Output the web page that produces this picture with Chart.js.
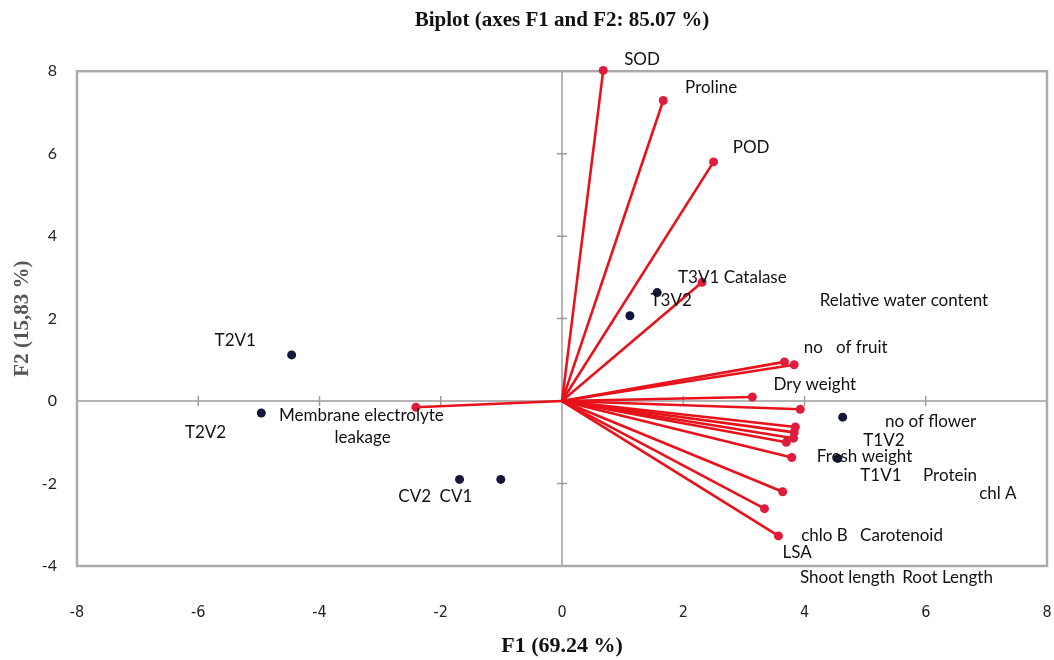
<!DOCTYPE html>
<html>
<head>
<meta charset="utf-8">
<title>Biplot</title>
<script src="https://cdn.jsdelivr.net/npm/chart.js@4.4.1/dist/chart.umd.min.js"></script>
<style>
  html, body { margin: 0; padding: 0; background: #fff; }
</style>
</head>
<body>
<canvas id="biplot" width="1054" height="660"></canvas>
<script>
// variables (loadings on F1 / F2)
var varNames = ['SOD', 'Proline', 'POD', 'Catalase', 'Relative water content', 'no of fruit',
                'Dry weight', 'no of flower', 'Protein', 'chl A', 'Fresh weight', 'Carotenoid',
                'chlo B', 'Root Length', 'Shoot length', 'LSA', 'Membrane electrolyte leakage'];
var varF1 = [0.68, 1.67, 2.50, 2.31, 3.67, 3.83, 3.14, 3.93, 3.85, 3.83, 3.82, 3.70, 3.79, 3.64, 3.34, 3.57, -2.41];
var varF2 = [8.02, 7.29, 5.80, 2.88, 0.95, 0.88, 0.10, -0.20, -0.63, -0.76, -0.90, -1.00, -1.37, -2.20, -2.61, -3.27, -0.15];

// observations
var obsNames = ['T3V1', 'T3V2', 'T2V1', 'T2V2', 'CV2', 'CV1', 'T1V2', 'T1V1'];
var obsF1 = [1.57, 1.12, -4.46, -4.96, -1.69, -1.01, 4.63, 4.55];
var obsF2 = [2.63, 2.07, 1.12, -0.29, -1.90, -1.90, -0.39, -1.39];

// axis ticks
var xTicks = [-8, -6, -4, -2, 0, 2, 4, 6, 8];
var yTicks = [-4, -2, 0, 2, 4, 6, 8];

// text labels as they sit on the original plot (data units)
var textLabels = [
  ['SOD', 1.32, 8.29], ['Proline', 2.46, 7.61], ['POD', 3.12, 6.15],
  ['T3V1 Catalase', 2.81, 3.00], ['T3V2', 1.80, 2.44],
  ['Relative water content', 5.64, 2.44], ['no   of fruit', 4.68, 1.29],
  ['Dry weight', 4.17, 0.41], ['no of flower', 6.08, -0.49], ['T1V2', 5.31, -0.95],
  ['Fresh weight', 4.99, -1.34], ['T1V1', 5.26, -1.80], ['Protein', 6.40, -1.80],
  ['chl A', 7.19, -2.24], ['chlo B', 4.33, -3.27], ['Carotenoid', 5.60, -3.27],
  ['LSA', 3.88, -3.68], ['Shoot length', 4.71, -4.27], ['Root Length', 6.36, -4.27],
  ['T2V1', -5.39, 1.46], ['T2V2', -5.88, -0.76],
  ['Membrane electrolyte', -3.31, -0.34], ['leakage', -3.29, -0.88],
  ['CV2', -2.43, -2.32], ['CV1', -1.75, -2.32]
];

var datasets = [];
for (var i = 0; i < varNames.length; i++) {
  datasets.push({
    label: varNames[i],
    type: 'line',
    data: [{x: 0, y: 0}, {x: varF1[i], y: varF2[i]}],
    borderColor: '#e8121a',
    borderWidth: 2.6,
    pointRadius: [0, 4.5],
    pointBackgroundColor: '#e01c3c',
    pointBorderWidth: 0,
    fill: false,
    clip: false
  });
}
datasets.push({
  label: 'Observations',
  type: 'scatter',
  data: obsF1.map(function(v, i) { return {x: v, y: obsF2[i]}; }),
  pointRadius: 4.5,
  pointBackgroundColor: '#14163a',
  pointBorderWidth: 0,
  clip: false
});

var biplotDecor = {
  id: 'biplotDecor',
  beforeDatasetsDraw: function(chart) {
    var ctx = chart.ctx, a = chart.chartArea;
    var xs = chart.scales.x, ys = chart.scales.y;
    var x0 = xs.getPixelForValue(0), y0 = ys.getPixelForValue(0);
    ctx.save();
    ctx.strokeStyle = '#9c9c9c';
    ctx.lineWidth = 1.5;
    ctx.beginPath();
    ctx.moveTo(a.left, y0); ctx.lineTo(a.right, y0);
    ctx.moveTo(x0, a.top); ctx.lineTo(x0, a.bottom);
    xTicks.forEach(function(t) {
      var px = xs.getPixelForValue(t);
      ctx.moveTo(px, y0 - 5); ctx.lineTo(px, y0 + 5);
    });
    yTicks.forEach(function(t) {
      var py = ys.getPixelForValue(t);
      ctx.moveTo(x0 - 5, py); ctx.lineTo(x0 + 5, py);
    });
    ctx.stroke();
    // frame
    ctx.strokeStyle = '#ababab';
    ctx.lineWidth = 2.5;
    ctx.strokeRect(a.left, a.top, a.right - a.left, a.bottom - a.top);
    ctx.restore();
  },
  afterDraw: function(chart) {
    var ctx = chart.ctx, xs = chart.scales.x, ys = chart.scales.y;
    ctx.save();
    ctx.font = '17px Lato';
    ctx.fillStyle = '#111';
    ctx.textAlign = 'center';
    ctx.textBaseline = 'middle';
    textLabels.forEach(function(l) {
      ctx.fillText(l[0], xs.getPixelForValue(l[1]), ys.getPixelForValue(l[2]));
    });
    ctx.restore();
  }
};

var ctx = document.getElementById('biplot').getContext('2d');
var chart = new Chart(ctx, {
  type: 'scatter',
  data: { datasets: datasets },
  options: {
    responsive: false,
    animation: false,
    layout: { padding: { left: 0, right: 7, top: 0, bottom: 0 } },
    plugins: {
      legend: { display: false },
      tooltip: { enabled: false },
      title: {
        display: true,
        fullSize: false,
        text: 'Biplot (axes F1 and F2: 85.07 %)',
        font: { family: 'Liberation Serif', size: 21, weight: 'bold' },
        color: '#111',
        padding: { top: 8, bottom: 38 }
      }
    },
    scales: {
      x: {
        type: 'linear',
        min: -8, max: 8,
        afterBuildTicks: function(s) { s.ticks = xTicks.map(function(v) { return {value: v}; }); },
        grid: { display: false, drawTicks: false },
        border: { display: false },
        ticks: { padding: 37, color: '#222', font: { family: "'DejaVu Sans Condensed', Lato", size: 16 } },
        afterFit: function(s) { s.height = 94; s.paddingLeft = 0; s.paddingRight = 0; },
        title: {
          display: true,
          text: 'F1 (69.24 %)',
          color: '#111',
          font: { family: 'Liberation Serif', size: 22, weight: 'bold' },
          padding: { top: 0, bottom: 0 }
        }
      },
      y: {
        type: 'linear',
        min: -4, max: 8,
        afterBuildTicks: function(s) { s.ticks = yTicks.map(function(v) { return {value: v}; }); },
        grid: { display: false, drawTicks: false },
        border: { display: false },
        ticks: { padding: 20, color: '#222', font: { family: 'Lato', size: 16 } },
        afterFit: function(s) { s.width = 77; },
        title: {
          display: true,
          text: 'F2 (15,83 %)',
          color: '#555',
          font: { family: 'Liberation Serif', size: 21, weight: 'bold' },
          padding: { top: 10, bottom: 0 }
        }
      }
    }
  },
  plugins: [biplotDecor]
});
</script>
</body>
</html>
